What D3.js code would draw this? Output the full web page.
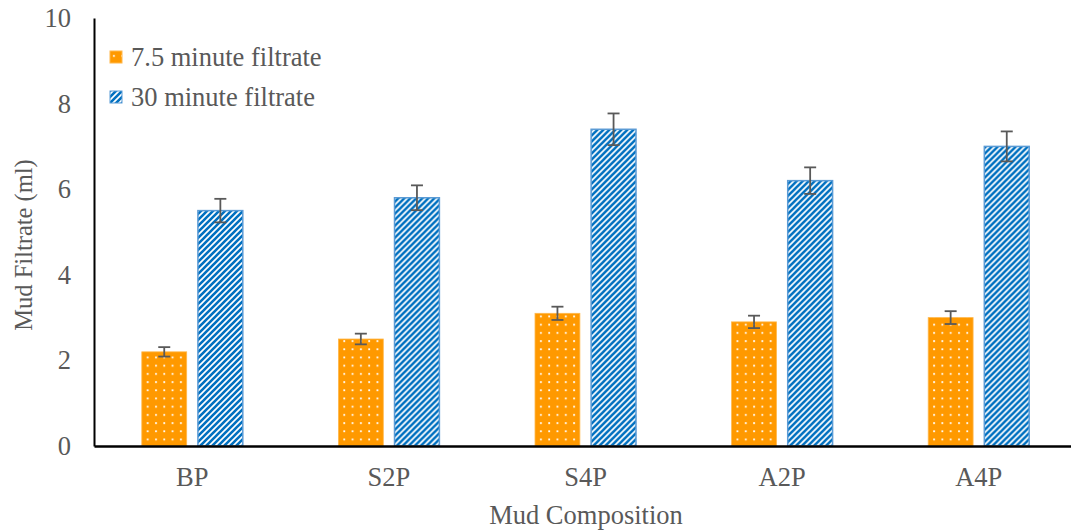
<!DOCTYPE html>
<html>
<head>
<meta charset="utf-8">
<script src="https://cdn.jsdelivr.net/npm/d3@7"></script>
<style>
  html, body { margin: 0; padding: 0; background: #fff; }
  svg { display: block; }
  text { font-family: "Liberation Serif", "Times New Roman", serif; fill: #595959; }
</style>
</head>
<body>
<svg id="chart" width="1071" height="531"></svg>
<script>
const categories = ["BP", "S2P", "S4P", "A2P", "A4P"];
const seriesNames = ["7.5 minute filtrate", "30 minute filtrate"];
const filtrate7_5 = [2.2, 2.5, 3.1, 2.9, 3.0];
const filtrate30 = [5.5, 5.8, 7.4, 6.2, 7.0];
const error7_5 = [0.11, 0.125, 0.155, 0.145, 0.15];
const error30 = [0.275, 0.29, 0.37, 0.31, 0.35];
const yTicks = [0, 2, 4, 6, 8, 10];

const FONT = "'Liberation Serif', 'Times New Roman', serif";
const FS = "26.5px";

const svg = d3.select("#chart");
const defs = svg.append("defs");

// dotted orange pattern
const pDot = defs.append("pattern").attr("id", "dots")
  .attr("patternUnits", "userSpaceOnUse").attr("width", 8.3).attr("height", 8.2)
  .attr("x", 1).attr("y", 2);
pDot.append("rect").attr("width", 8.3).attr("height", 8.2).attr("fill", "#FF9900");
pDot.append("rect").attr("x", 2).attr("y", 2).attr("width", 1.8).attr("height", 1.8).attr("fill", "#FFFFFF");

// upward diagonal blue stripes
const pStr = defs.append("pattern").attr("id", "stripes")
  .attr("patternUnits", "userSpaceOnUse").attr("width", 6).attr("height", 6);
pStr.append("rect").attr("width", 6).attr("height", 6).attr("fill", "#FFFFFF");
pStr.append("path").attr("d", "M-1.5,1.5 L1.5,-1.5 M0,6 L6,0 M4.5,7.5 L7.5,4.5")
  .attr("stroke", "#0070C0").attr("stroke-width", 2.6).attr("stroke-linecap", "square");

const fills = ["url(#dots)", "url(#stripes)"];
const strokes = ["#FFB84D", "#5B9BD5"];

const plotLeft = 94, plotRight = 1077, plotTop = 18, plotBottom = 446;

const x0 = d3.scaleBand().domain(categories).range([plotLeft, plotRight]).paddingInner(0).paddingOuter(0);
const bw = x0.bandwidth();
const x1 = d3.scaleBand().domain(seriesNames).range([bw / 2 - 50.5, bw / 2 + 50.5]).paddingInner(0.2).paddingOuter(0);
const y = d3.scaleLinear().domain([0, 10]).range([plotBottom, plotTop]);

const data = categories.map((c, i) => ({
  cat: c,
  vals: [
    { s: seriesNames[0], v: filtrate7_5[i], e: error7_5[i], k: 0 },
    { s: seriesNames[1], v: filtrate30[i], e: error30[i], k: 1 }
  ]
}));

const groups = svg.append("g").selectAll("g").data(data).join("g")
  .attr("transform", d => `translate(${x0(d.cat)},0)`);

groups.selectAll("rect").data(d => d.vals).join("rect")
  .attr("x", d => x1(d.s))
  .attr("y", d => y(d.v))
  .attr("width", x1.bandwidth())
  .attr("height", d => y(0) - y(d.v))
  .attr("fill", d => fills[d.k])
  .attr("stroke", d => strokes[d.k])
  .attr("stroke-width", d => d.k === 1 ? 1.5 : 0.8);

// error bars
const eb = groups.selectAll("g.err").data(d => d.vals).join("g").attr("class", "err")
  .attr("stroke", "#595959").attr("stroke-width", 1.8);
eb.append("line")
  .attr("x1", d => x1(d.s) + x1.bandwidth() / 2).attr("x2", d => x1(d.s) + x1.bandwidth() / 2)
  .attr("y1", d => y(d.v + d.e)).attr("y2", d => y(d.v - d.e));
eb.append("line")
  .attr("x1", d => x1(d.s) + x1.bandwidth() / 2 - 6).attr("x2", d => x1(d.s) + x1.bandwidth() / 2 + 6)
  .attr("y1", d => y(d.v + d.e)).attr("y2", d => y(d.v + d.e));
eb.append("line")
  .attr("x1", d => x1(d.s) + x1.bandwidth() / 2 - 6).attr("x2", d => x1(d.s) + x1.bandwidth() / 2 + 6)
  .attr("y1", d => y(d.v - d.e)).attr("y2", d => y(d.v - d.e));

// Y axis
const yAxis = svg.append("g").attr("transform", `translate(${plotLeft},0)`)
  .call(d3.axisLeft(y).tickValues(yTicks).tickSize(0).tickPadding(23));
yAxis.attr("font-family", null).attr("font-size", null);
yAxis.select(".domain").attr("stroke", "#000").attr("stroke-width", 2);
yAxis.selectAll("text").style("font-size", FS).style("font-family", FONT).attr("fill", "#595959");

// X axis
const xAxis = svg.append("g").attr("transform", `translate(0,${plotBottom})`)
  .call(d3.axisBottom(x0).tickSize(0).tickPadding(21));
xAxis.attr("font-family", null).attr("font-size", null);
xAxis.select(".domain").attr("stroke", "#000").attr("stroke-width", 2.5);
xAxis.selectAll("text").style("font-size", FS).style("font-family", FONT).attr("fill", "#595959");

// Axis titles
svg.append("text")
  .attr("transform", `translate(32,245) rotate(-90)`)
  .attr("text-anchor", "middle")
  .style("font-size", "24.5px").style("font-family", FONT)
  .text("Mud Filtrate (ml)");

svg.append("text")
  .attr("x", 586).attr("y", 524)
  .attr("text-anchor", "middle")
  .style("font-size", FS).style("font-family", FONT)
  .text("Mud Composition");

// Legend
const legend = svg.append("g").attr("transform", "translate(110,51)");
const li = legend.selectAll("g").data(seriesNames).join("g")
  .attr("transform", (d, i) => `translate(0,${i * 40})`);
li.append("rect").attr("width", 12).attr("height", 12)
  .attr("fill", (d, i) => fills[i]).attr("stroke", (d, i) => strokes[i]).attr("stroke-width", 1);
li.append("text").attr("x", 21).attr("y", 6).attr("dy", "0.35em")
  .style("font-size", FS).style("font-family", FONT).text(d => d);
</script>
</body>
</html>
